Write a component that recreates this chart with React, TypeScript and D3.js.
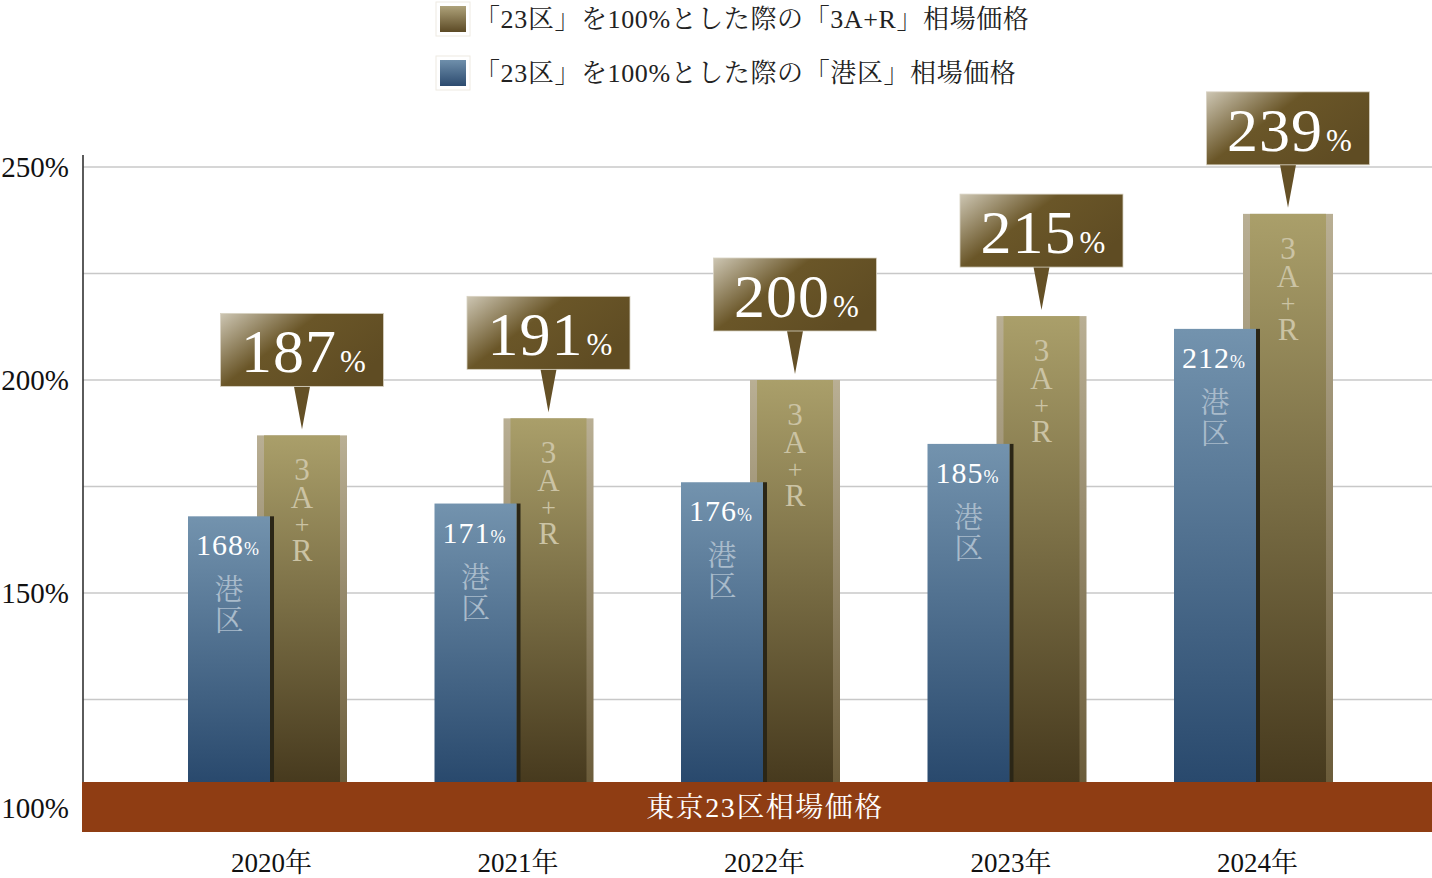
import { scaleBand, scaleLinear } from "d3";

const years = ["2020年", "2021年", "2022年", "2023年", "2024年"];
const minatoValues = [168, 171, 176, 185, 212];
const arValues = [187, 191, 200, 215, 239];
const yTicks = [250, 200, 150, 100];
const gridValues = [125, 150, 175, 200, 225, 250];
const legendLabels = [
  "「23区」を100%とした際の「3A+R」相場価格",
  "「23区」を100%とした際の「港区」相場価格",
];
const baseLabel = "東京23区相場価格";
const minatoChars = ["港", "区"];
const arChars = ["3", "A", "+", "R"];

const width = 1432;
const height = 878;
const axisX = 83;
const baseTop = 782;
const baseBottom = 832;
const font =
  "'Liberation Serif', 'Noto Serif CJK JP', 'Noto Sans CJK JP', serif";

export default function App() {
  const y = scaleLinear().domain([150, 250]).range([593, 167]);
  const x = scaleBand<string>()
    .domain(years)
    .range([144.25, 144.25 + 246.5 * years.length]);
  const bw = x.bandwidth();

  return (
    <svg
      width={width}
      height={height}
      viewBox={`0 0 ${width} ${height}`}
      style={{ position: "absolute", left: 0, top: 0, fontFamily: font }}
    >
      <defs>
        <linearGradient id="blueGrad" x1="0" y1="0" x2="0" y2="1">
          <stop offset="0%" stopColor="#7393ae" />
          <stop offset="100%" stopColor="#29496d" />
        </linearGradient>
        <linearGradient id="goldGrad" x1="0" y1="0" x2="0" y2="1">
          <stop offset="0%" stopColor="#aa9f6a" />
          <stop offset="100%" stopColor="#473a1e" />
        </linearGradient>
        <linearGradient id="goldEdge" x1="0" y1="0" x2="0" y2="1">
          <stop offset="0%" stopColor="#b9af94" />
          <stop offset="100%" stopColor="#6b5c3a" />
        </linearGradient>
        <linearGradient id="calloutGrad" x1="0" y1="0" x2="1" y2="0.6">
          <stop offset="0%" stopColor="#cdc6b3" />
          <stop offset="45%" stopColor="#6a5628" />
          <stop offset="100%" stopColor="#5f4c23" />
        </linearGradient>
        <linearGradient id="legendGold" x1="0" y1="0" x2="0" y2="1">
          <stop offset="0%" stopColor="#aea27a" />
          <stop offset="100%" stopColor="#5c4a25" />
        </linearGradient>
        <linearGradient id="legendBlue" x1="0" y1="0" x2="0" y2="1">
          <stop offset="0%" stopColor="#6f8fab" />
          <stop offset="100%" stopColor="#2c4b6f" />
        </linearGradient>
      </defs>

      {/* legend */}
      {legendLabels.map((label, i) => (
        <g key={label} transform={`translate(0, ${i * 54})`}>
          <rect x={436} y={2} width={34} height={34} fill="#fff" stroke="#eeeae2" />
          <rect
            x={440}
            y={6}
            width={26}
            height={26}
            fill={i === 0 ? "url(#legendGold)" : "url(#legendBlue)"}
          />
          <text x={474} y={28} fontSize={26} fill="#222" letterSpacing={0.6}>
            {label}
          </text>
        </g>
      ))}

      {/* grid */}
      {gridValues.map((v) => (
        <line
          key={v}
          x1={axisX}
          x2={width}
          y1={y(v)}
          y2={y(v)}
          stroke="#c8c8c8"
          strokeWidth={1.3}
        />
      ))}
      <line x1={axisX} x2={axisX} y1={155} y2={baseTop} stroke="#333" strokeWidth={1.6} />

      {/* y labels */}
      {yTicks.map((v) => (
        <text
          key={v}
          x={69}
          y={v === 100 ? 808 : y(v)}
          dy="0.35em"
          textAnchor="end"
          fontSize={29}
          fill="#111"
        >
          {v}%
        </text>
      ))}

      {/* bars */}
      {years.map((yr, i) => {
        const c = (x(yr) ?? 0) + bw / 2;
        const gx = c - 10.5;
        const gw = 90;
        const gTop = y(arValues[i]);
        const bx = c - 79.5;
        const bwid = 82;
        const bTop = y(minatoValues[i]);
        const tipX = gx + gw / 2;
        const boxW = 163;
        const boxBottom = gTop - 49;
        const boxTop = gTop - 122;
        return (
          <g key={yr}>
            {/* 3A+R bar */}
            <rect x={gx} y={gTop} width={gw} height={baseTop - gTop} fill="url(#goldEdge)" />
            <rect x={gx + 7} y={gTop} width={gw - 14} height={baseTop - gTop} fill="url(#goldGrad)" />
            <text textAnchor="middle" fill="#cbc3a4" fontSize={31}>
              {arChars.map((ch, k) => (
                <tspan
                  key={k}
                  x={tipX}
                  y={gTop + [45, 73, 98, 126][k]}
                  fontSize={ch === "+" ? 26 : 31}
                >
                  {ch}
                </tspan>
              ))}
            </text>

            {/* Minato bar */}
            <rect x={bx + bwid} y={bTop} width={4} height={baseTop - bTop} fill="#2b2616" />
            <rect x={bx} y={bTop} width={bwid} height={baseTop - bTop} fill="url(#blueGrad)" />
            <text x={bx + bwid / 2 - 1} y={bTop + 39} textAnchor="middle" fill="#fff" fontSize={30} letterSpacing={1}>
              {minatoValues[i]}
              <tspan fontSize={18}>%</tspan>
            </text>
            <text textAnchor="middle" fontSize={29} fill="#a9bbcb">
              {minatoChars.map((ch, k) => (
                <tspan key={ch} x={bx + bwid / 2} y={bTop + 84 + k * 31}>
                  {ch}
                </tspan>
              ))}
            </text>

            {/* callout */}
            <path
              d={`M${tipX - 8},${boxBottom} L${tipX},${gTop - 6} L${tipX + 8},${boxBottom} Z`}
              fill="#645026"
            />
            <rect
              x={tipX - boxW / 2}
              y={boxTop}
              width={boxW}
              height={boxBottom - boxTop}
              fill="url(#calloutGrad)"
              stroke="#d8d2c2"
              strokeWidth={0.8}
            />
            <text
              x={tipX + 2}
              y={boxBottom - 14}
              textAnchor="middle"
              fill="#fff"
              fontSize={62}
              letterSpacing={1}
            >
              {arValues[i]}
              <tspan fontSize={31} dx={3}>%</tspan>
            </text>

            {/* year label */}
            <text x={c + 4} y={872} textAnchor="middle" fontSize={27} fill="#111">
              {yr}
            </text>
          </g>
        );
      })}

      {/* base band */}
      <rect x={82} y={baseTop} width={width - 82} height={baseBottom - baseTop} fill="#8f3d13" />
      <text x={765} y={807} dy="0.35em" textAnchor="middle" fontSize={28} fill="#fff" letterSpacing={1.5}>
        {baseLabel}
      </text>
    </svg>
  );
}
